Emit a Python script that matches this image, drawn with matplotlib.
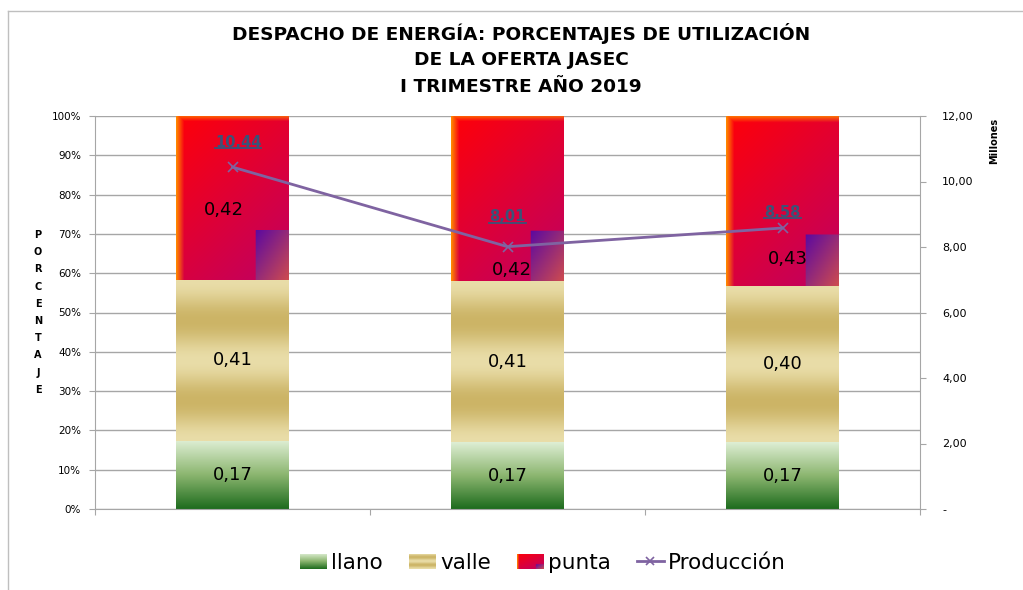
import numpy as np
import matplotlib
matplotlib.use("Agg")
import matplotlib.pyplot as plt
from matplotlib.patches import Rectangle
from matplotlib.lines import Line2D

# ---------------- data ----------------
title_lines = ["DESPACHO DE ENERGÍA: PORCENTAJES DE UTILIZACIÓN",
               "DE LA OFERTA JASEC",
               "I TRIMESTRE AÑO 2019"]
categories = ["Enero", "Febrero", "Marzo"]          # not shown on the chart
llano = np.array([0.174, 0.170, 0.170])
valle = np.array([0.408, 0.409, 0.398])
punta = np.array([0.418, 0.421, 0.432])
produccion = np.array([10.44, 8.01, 8.58])          # millones
series_names = ["llano", "valle", "punta", "Producción"]
pct_ticks = np.arange(0, 1.01, 0.1)
prod_ticks = np.arange(0, 12.01, 2)

# ---------------- style ----------------
W, H = 1023, 590
LINE_COLOR = "#7F63A1"
GRID = "#A6A6A6"
LABEL_COLOR = "#3B5378"
punta_label_pos = [(-0.03, 0.761), (1.015, 0.608), (2.02, 0.636)]   # (x, y) of punta labels
prod_label_off = [(4, 17.5), (0, 21.5), (0, 11)]                     # points offsets

def fmt2(v):
    return f"{v:.2f}".replace(".", ",")

def interp_stops(t, stops, cols):
    cols = np.array(cols) / 255.0
    return np.stack([np.interp(t, stops, cols[:, c]) for c in range(3)], axis=-1)

def llano_img(h=120, w=20):
    v = np.linspace(0, 1, h)
    c = interp_stops(v, [0, 0.5, 1], [(222, 238, 212), (140, 182, 112), (30, 108, 30)])
    return np.repeat(c[:, None, :], w, axis=1)

def valle_img(h=160, w=20):
    v = np.linspace(0, 1, h)
    t = 0.5 - 0.5 * np.cos(2 * np.pi * 2 * v)
    light = np.array([233, 221, 168]) / 255
    dark = np.array([204, 180, 102]) / 255
    c = light[None, :] + t[:, None] * (dark - light)[None, :]
    return np.repeat(c[:, None, :], w, axis=1)

def punta_img(h=165, w=112):
    v = np.linspace(0, 1, h)[:, None] * np.ones((1, w))
    u = np.ones((h, 1)) * np.linspace(0, 1, w)[None, :]
    t = np.clip((u * 0.6 + v * 0.9) / 1.5, 0, 1)
    red = np.array([255, 0, 8]) / 255
    mag = np.array([190, 0, 100]) / 255
    img = red[None, None, :] * (1 - t[..., None]) + mag[None, None, :] * t[..., None]
    orange = np.array([255, 135, 0]) / 255
    el = np.clip(1 - u / 0.07, 0, 1)
    et = np.clip(1 - v / 0.035, 0, 1) * 0.8
    e = np.maximum(el, et)[..., None]
    img = img * (1 - e) + orange[None, None, :] * e
    m = (u > 0.71) & (v > 0.70)
    s = np.clip(((u - 0.71) / 0.29 + (v - 0.70) / 0.30) / 2, 0, 1)
    purple = np.array([92, 10, 160]) / 255
    salmon = np.array([205, 75, 80]) / 255
    pc = purple[None, None, :] * (1 - s[..., None]) + salmon[None, None, :] * s[..., None]
    img[m] = pc[m]
    return img

# ---------------- figure ----------------
plt.rcParams["font.family"] = ["DejaVu Sans"]
fig = plt.figure(figsize=(W / 100, H / 100), dpi=100)
fig.patch.set_facecolor("white")

ax = fig.add_axes([95 / W, 81 / H, 825 / W, 393 / H])
x = np.arange(len(categories))
bw = 0.41
b_llano = ax.bar(x, llano, width=bw, color="none", edgecolor="none")
b_valle = ax.bar(x, valle, width=bw, bottom=llano, color="none", edgecolor="none")
b_punta = ax.bar(x, punta, width=bw, bottom=llano + valle, color="none", edgecolor="none")

for bars, maker in [(b_llano, llano_img), (b_valle, valle_img), (b_punta, punta_img)]:
    for r in bars:
        x0, y0, w, h = r.get_x(), r.get_y(), r.get_width(), r.get_height()
        ax.imshow(maker(), extent=(x0, x0 + w, y0, y0 + h), aspect="auto",
                  interpolation="bilinear", zorder=2)

ax.set_xlim(-0.5, len(categories) - 0.5)
ax.set_ylim(0, 1)
ax.set_aspect("auto")
ax.set_axisbelow(True)
ax.yaxis.grid(True, color=GRID, lw=1)
ax.set_yticks(pct_ticks)
ax.set_yticklabels([f"{int(round(v * 100))}%" for v in pct_ticks], fontsize=7.5)
ax.set_xticks(np.arange(-0.5, len(categories), 1.0))
ax.set_xticklabels([])
ax.tick_params(axis="y", direction="out", length=4, color=GRID, pad=6)
ax.tick_params(axis="x", direction="out", length=4, color=GRID)
for s in ["top", "right"]:
    ax.spines[s].set_visible(False)
for s in ["left", "bottom"]:
    ax.spines[s].set_color(GRID)

# value labels
for i in range(len(categories)):
    ax.text(x[i], llano[i] / 2, fmt2(llano[i]), ha="center", va="center", fontsize=13, zorder=5)
    ax.text(x[i], llano[i] + valle[i] / 2, fmt2(valle[i]), ha="center", va="center", fontsize=13, zorder=5)
    px, py = punta_label_pos[i]
    ax.text(px, py, fmt2(punta[i]), ha="center", va="center", fontsize=13, zorder=5)

# production line
ax2 = ax.twinx()
ax2.plot(x, produccion, color=LINE_COLOR, lw=2.0, marker="x", ms=7, mew=1.2, zorder=3)
ax2.set_ylim(0, 12)
ax2.set_yticks(prod_ticks)
ax2.set_yticklabels(["-" if v == 0 else fmt2(v) for v in prod_ticks], fontsize=8)
ax2.tick_params(axis="y", direction="out", length=4, color=GRID, pad=12)
for s in ["top", "left", "bottom"]:
    ax2.spines[s].set_visible(False)
ax2.spines["right"].set_color(GRID)
prod_texts = []
for i in range(len(categories)):
    t = ax2.annotate(fmt2(produccion[i]), (x[i], produccion[i]), xytext=prod_label_off[i],
                     textcoords="offset points", ha="center", va="center",
                     fontsize=10.5, fontweight="bold", color=LABEL_COLOR, zorder=6)
    prod_texts.append(t)

# titles & axis labels
for k, line in enumerate(title_lines):
    fig.text(521 / W, 1 - (33 + 27 * k) / H, line, ha="center", va="center",
             fontsize=13.3, fontweight="bold")
for k, ch in enumerate("PORCENTAJE"):
    fig.text(38 / W, 1 - (235 + 17.2 * k) / H, ch, ha="center", va="center",
             fontsize=7, fontweight="bold")
fig.text(994 / W, 1 - 141 / H, "Millones", rotation=90, ha="center", va="center",
         fontsize=7, fontweight="bold")

# border
fig.add_artist(Line2D([8 / W, 8 / W], [0, 1 - 11 / H], transform=fig.transFigure, color="#BFBFBF", lw=1))
fig.add_artist(Line2D([8 / W, 1], [1 - 11 / H, 1 - 11 / H], transform=fig.transFigure, color="#BFBFBF", lw=1))

# legend
handles = [Rectangle((0, 0), 1, 1, fc=(0.5, 0.7, 0.4), ec="none"),
           Rectangle((0, 0), 1, 1, fc=(0.85, 0.78, 0.5), ec="none"),
           Rectangle((0, 0), 1, 1, fc=(0.9, 0.0, 0.3), ec="none"),
           Line2D([], [], color=LINE_COLOR, lw=2.0, marker="x", ms=6, mew=1.2)]
leg = fig.legend(handles, series_names, loc="center", bbox_to_anchor=(543 / W, 1 - 563 / H),
                 ncol=4, frameon=False, fontsize=15.5, handlelength=1.25, handleheight=0.7,
                 handletextpad=0.2, columnspacing=1.2)

fig.canvas.draw()
inv = fig.transFigure.inverted()
for patch, maker in zip(leg.get_patches(), [llano_img, valle_img, punta_img]):
    bb = patch.get_window_extent()
    (fx0, fy0), (fx1, fy1) = inv.transform([(bb.x0, bb.y0), (bb.x1, bb.y1)])
    axi = fig.add_axes([fx0, fy0, fx1 - fx0, fy1 - fy0])
    axi.imshow(maker(40, 40), aspect="auto", interpolation="bilinear")
    axi.axis("off")
    axi.set_zorder(20)

# underline production labels
for t in prod_texts:
    bb = t.get_window_extent()
    yy = bb.y0 + 0.12 * bb.height
    (fx0, fy), (fx1, _) = inv.transform([(bb.x0, yy), (bb.x1, yy)])
    fig.add_artist(Line2D([fx0, fx1], [fy, fy], transform=fig.transFigure, color=LABEL_COLOR, lw=1.3))

fig.savefig("out.png", dpi=100)
